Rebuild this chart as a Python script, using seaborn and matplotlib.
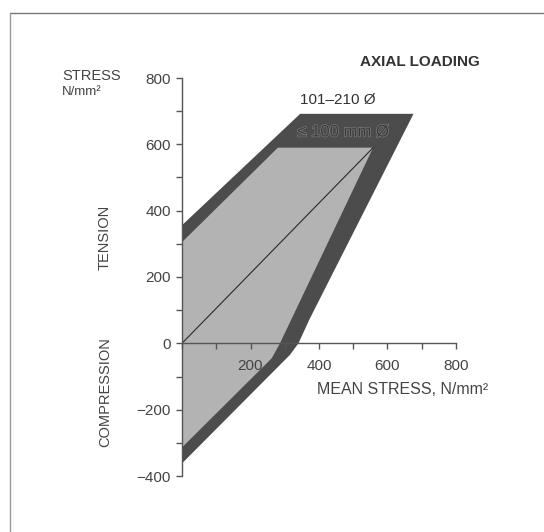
import matplotlib
matplotlib.use("Agg")
import matplotlib.pyplot as plt
from matplotlib.lines import Line2D
import matplotlib.patheffects as pe
import numpy as np
import pandas as pd
import seaborn as sns

# ---- data ----
outer_x = [0, 0, 345, 676, 372, 340, 315, 0]          # 101-210 mm dia envelope
outer_y = [-362, 356, 692, 692, 72, 0, -35, -362]
inner_x = [0, 0, 280, 558, 286, 262, 0]              # <=100 mm dia envelope
inner_y = [-314, 305, 590, 590, 0, -45, -314]
diag_x = [0, 558]                                     # mean-stress line
diag_y = [0, 590]
x_major = [200, 400, 600, 800]
x_minor = [0, 100, 300, 500, 700]
y_major = [-400, -200, 0, 200, 400, 600, 800]
y_minor = [-300, -100, 100, 300, 500, 700]
y_labels = ["\u2212400", "\u2212200", "0", "200", "400", "600", "800"]

sns.set_style("ticks")
FONT = ["Liberation Sans", "DejaVu Sans"]
plt.rcParams["font.family"] = FONT

W, H = 544, 532
fig = plt.figure(figsize=(W / 100, H / 100), dpi=100)

def fx(px):
    return px / W

def fy(py):
    return 1 - py / H

ax = fig.add_axes([fx(182), fy(476), fx(456) - fx(182), fy(78) - fy(476)])
ax.set_xlim(0, 800)
ax.set_ylim(-400, 800)
ax.set_axisbelow(False)

ax.fill(outer_x, outer_y, color="#4c4c4c", lw=0, zorder=1)
ax.fill(inner_x, inner_y, color="#b3b3b3", lw=0, zorder=1.5)
line_df = pd.DataFrame({"x": diag_x, "y": diag_y})
sns.lineplot(data=line_df, x="x", y="y", ax=ax, color="#2a2a2a", lw=0.8, zorder=2)
ax.set_xlabel("")
ax.set_ylabel("")

for s in ["top", "right"]:
    ax.spines[s].set_visible(False)
ax.spines["bottom"].set_position(("data", 0))
ax.spines["bottom"].set_bounds(0, 800)
ax.spines["left"].set_bounds(-400, 800)
for s in ["bottom", "left"]:
    ax.spines[s].set_color("#555555")
    ax.spines[s].set_linewidth(1.0)
    ax.spines[s].set_zorder(4)

ax.set_xticks(x_major)
ax.set_xticklabels([str(v) for v in x_major])
ax.set_xticks(x_minor, minor=True)
ax.set_yticks(y_major)
ax.set_yticklabels(y_labels)
ax.set_yticks(y_minor, minor=True)
ax.tick_params(axis="both", which="both", direction="out", length=4,
               width=1.0, color="#555555", labelsize=11, labelcolor="#444444")
ax.tick_params(axis="x", which="major", pad=7)
ax.tick_params(axis="y", which="major", pad=4)

# annotations
fig.text(fx(420), fy(62), "AXIAL LOADING", ha="center", va="center",
         fontsize=11, fontweight="bold", color="#333333")
fig.text(fx(62), fy(76), "STRESS", ha="left", va="center",
         fontsize=10.5, color="#444444")
fig.text(fx(62), fy(92), "N/mm\u00b2", ha="left", va="center",
         fontsize=9.5, color="#444444")
fig.text(fx(105), fy(237), "TENSION", ha="center", va="center",
         rotation=90, fontsize=10.5, color="#444444")
fig.text(fx(105), fy(392), "COMPRESSION", ha="center", va="center",
         rotation=90, fontsize=10.5, color="#444444")
fig.text(fx(338), fy(100), "101\u2013210 \u00d8", ha="center", va="center",
         fontsize=11, color="#333333")
fig.text(fx(343), fy(132), "\u2264 100 mm \u00d8", ha="center", va="center",
         fontsize=12, color="#3a3a3a",
         path_effects=[pe.withStroke(linewidth=1.0, foreground="#7c7c7c")])
fig.text(fx(317), fy(390), "MEAN STRESS, N/mm\u00b2", ha="left", va="center",
         fontsize=11.5, color="#444444")

# frame (top and left edges, as in the scanned page)
fig.add_artist(Line2D([fx(10), fx(544)], [fy(13), fy(13)], color="#777777",
                      lw=1.0, transform=fig.transFigure))
fig.add_artist(Line2D([fx(10), fx(10)], [fy(13), fy(532)], color="#999999",
                      lw=1.0, transform=fig.transFigure))

fig.savefig("out.png", dpi=100)
